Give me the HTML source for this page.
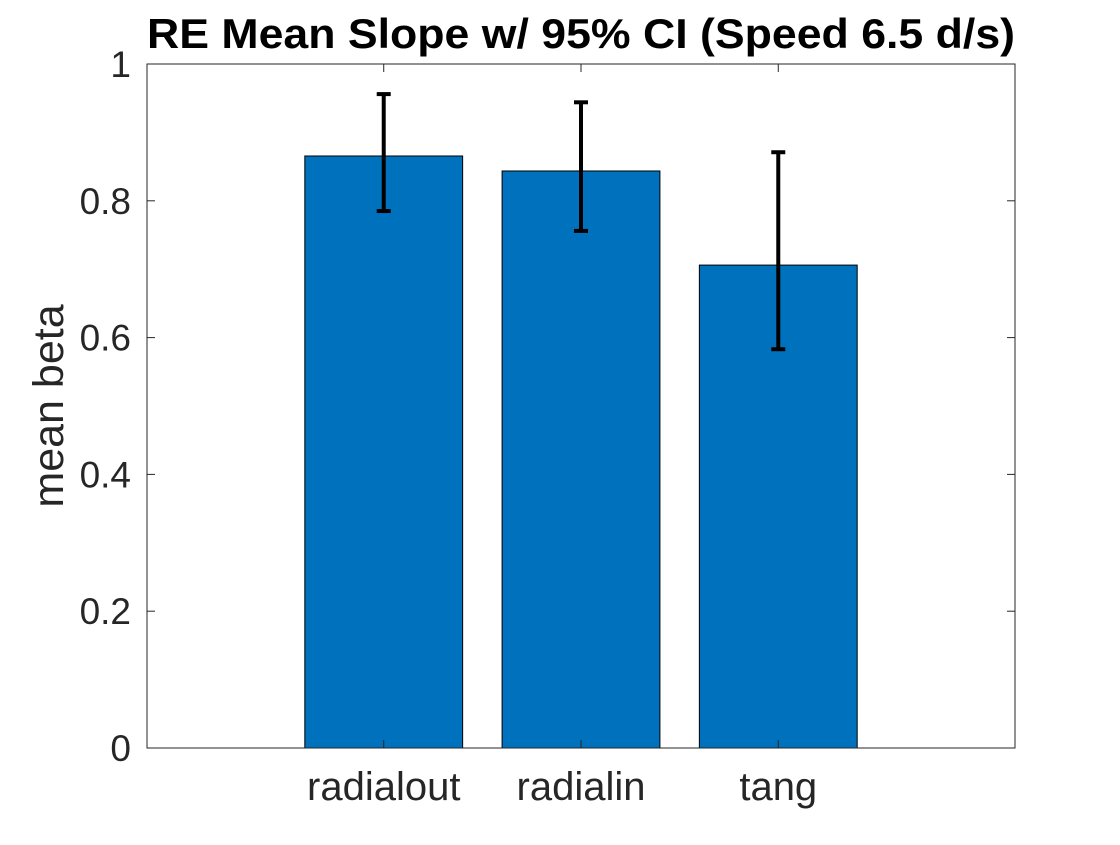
<!DOCTYPE html>
<html><head><meta charset="utf-8"><style>
body{margin:0;background:#fff;}
svg text{font-family:"Liberation Sans",Arial,sans-serif;}
</style></head><body>
<svg id="chart" width="1120" height="840" xmlns="http://www.w3.org/2000/svg">
<rect width="1120" height="840" fill="#fff"/>
<g id="plot"></g>
</svg>
<script>
const categories=["radialout","radialin","tang"];
const means=[0.8655,0.8436,0.706];
const ciUpper=[0.956,0.944,0.871];
const ciLower=[0.785,0.756,0.583];
const yTicks=[0,0.2,0.4,0.6,0.8,1];
const yTickLabels=["0","0.2","0.4","0.6","0.8","1"];

const L=147,R=1015,T=64,B=748;
const xMin=-0.2,xMax=4.2;
function xs(v){return L+(v-xMin)/(xMax-xMin)*(R-L);}
function ys(v){return B-v*(B-T);}
const NS="http://www.w3.org/2000/svg";
const g=document.getElementById('plot');
function mk(tag,attrs,parent){const e=document.createElementNS(NS,tag);for(const k in attrs)e.setAttribute(k,attrs[k]);(parent||g).appendChild(e);return e;}

const ax=mk('rect',{x:L,y:T,width:R-L,height:B-T,fill:'#fff',stroke:'none'});



categories.forEach((c,i)=>{
  const cx=xs(i+1),w=xs(0.4)-xs(0);
  const b=mk('rect',{x:cx-w,y:ys(means[i]),width:2*w,height:ys(0)-ys(means[i]),fill:'#0072bd',stroke:'#000','stroke-width':1});
  
  
  const eg=mk('g',{stroke:'#000','stroke-width':4});
  
  
  mk('line',{x1:cx,x2:cx,y1:ys(ciUpper[i]),y2:ys(ciLower[i])},eg);
  mk('line',{x1:cx-7,x2:cx+7,y1:ys(ciUpper[i]),y2:ys(ciUpper[i])},eg);
  mk('line',{x1:cx-7,x2:cx+7,y1:ys(ciLower[i]),y2:ys(ciLower[i])},eg);
  const t=mk('text',{x:cx,y:800,'text-anchor':'middle','font-size':'40',fill:'#262626'});
  t.textContent=c;
  
  
  mk('line',{x1:cx,x2:cx,y1:B,y2:B-8,stroke:'#262626','stroke-width':1});
  mk('line',{x1:cx,x2:cx,y1:T,y2:T+8,stroke:'#262626','stroke-width':1});
});

yTicks.forEach((v,i)=>{
  const y=ys(v);
  mk('line',{x1:L,x2:L+8,y1:y,y2:y,stroke:'#262626','stroke-width':1});
  mk('line',{x1:R,x2:R-8,y1:y,y2:y,stroke:'#262626','stroke-width':1});
  const t=mk('text',{x:L-16,y:y+13,'text-anchor':'end','font-size':'37',fill:'#262626'});
  t.textContent=yTickLabels[i];
  
  
});

const box=mk('rect',{x:L,y:T,width:R-L,height:B-T,fill:'none',stroke:'#262626','stroke-width':1});



const yl=mk('text',{x:0,y:0,transform:'translate(63,406) rotate(-90)','text-anchor':'middle','font-size':'43',fill:'#262626'});
yl.textContent='mean beta';



const ti=mk('text',{x:581,y:48,'text-anchor':'middle','font-size':'42','font-weight':'bold',fill:'#000',textLength:'868',lengthAdjust:'spacingAndGlyphs'});
ti.textContent='RE Mean Slope w/ 95% CI (Speed 6.5 d/s)';


</script>
</body></html>
